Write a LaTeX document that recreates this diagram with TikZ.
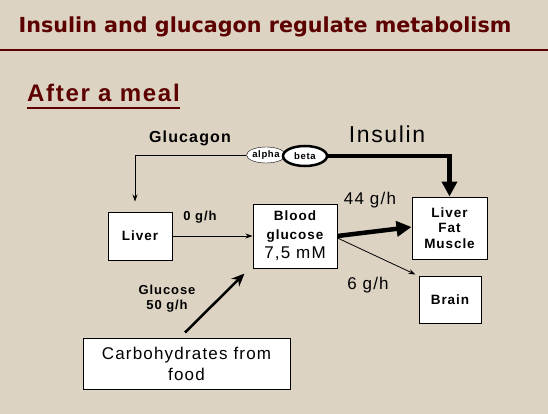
\documentclass[tikz,border=0pt]{standalone}
\usepackage{fontspec}
\setmainfont{Liberation Sans}[LetterSpace=7]
\newfontfamily\headfont{DejaVu Sans}
\usetikzlibrary{arrows.meta,calc,positioning,shapes.geometric}
\definecolor{SlideBG}{HTML}{DCD3C3}
\definecolor{TitleRed}{HTML}{5C0000}

\begin{document}
\begin{tikzpicture}[
  x=1pt,y=-1pt,
  box/.style={draw,fill=white,line width=1pt,align=center,inner sep=0pt,
    font=\fontsize{13.5}{15.5}\selectfont\bfseries},
  lbl/.style={align=center,inner sep=0pt,font=\fontsize{13}{15}\selectfont\bfseries},
  big/.style={align=center,inner sep=0pt,font=\fontsize{17}{19}\selectfont},
  arr/.style={-{Stealth[length=7pt,width=5pt]},line width=0.8pt},
  fatarr/.style={-{Triangle[length=15pt,width=15pt]},line width=4.5pt},
  oval/.style={ellipse,draw,fill=white,inner sep=0pt,font=\fontsize{9.5}{10}\selectfont\bfseries}
]
  \useasboundingbox[fill=SlideBG] (0,0) rectangle (548,414);

  % title
  \node[inner sep=0pt,text=TitleRed,font=\headfont\fontsize{20.7}{24}\selectfont\bfseries]
    (title) at (265,27) {Insulin and glucagon regulate metabolism};
  \draw[TitleRed,line width=2pt] (0,50) -- (548,50);
  \node[inner sep=0pt,anchor=base west,text=TitleRed,font=\fontsize{24}{28}\selectfont\bfseries]
    (meal) at (27,102) {After a meal};
  \draw[TitleRed,line width=2.5pt] ([yshift=-6pt]meal.base west) -- ([yshift=-6pt]meal.base east);

  % boxes
  \node[box,minimum width=64,minimum height=48] (liver) at (140,236) {Liver};
  \node[box,minimum width=84,minimum height=64,font=\fontsize{13.5}{19}\selectfont\bfseries]
    (blood) at (295,236)
    {Blood\\glucose\\{\fontsize{17}{19}\selectfont\mdseries 7,5 mM}};
  \node[box,minimum width=75,minimum height=62] (lfm) at (449.5,228) {Liver\\Fat\\Muscle};
  \node[box,minimum width=62,minimum height=47] (brain) at (450,299.5) {Brain};
  \node[box,minimum width=207,minimum height=51,font=\fontsize{17}{21}\selectfont] (carbs)
    at (186.5,363.5) {Carbohydrates from\\food};

  % islet cells
  \node[oval,minimum width=38,minimum height=16] (alpha) at (266,155) {alpha};
  \node[oval,line width=2.5pt,minimum width=44,minimum height=20] (beta) at (305,156) {beta};

  % labels
  \node[lbl,font=\fontsize{16}{18}\selectfont\bfseries] (glucagon) at (190,138) {Glucagon};
  \node[inner sep=0pt,font=\fontsize{23}{26}\selectfont] (insulin) at (387,134) {Insulin};
  \node[lbl] (zero) at (200,217) {0 g/h};
  \node[big] (fortyfour) at (370,200) {44 g/h};
  \node[big] (six) at (368,285) {6 g/h};
  \node[lbl] (glucose) at (167,299) {Glucose\\50 g/h};

  % flows
  \draw[arr] (alpha.west) -| ([xshift=-5pt,yshift=10pt]liver.north);
  \draw[fatarr] (beta.east) -| (lfm.north);
  \draw[arr] (liver.east) -- (blood.west);
  \draw[fatarr] (blood.east) -- ([yshift=1pt]lfm.west);
  \draw[arr] ([yshift=-2pt]blood.east) -- ([xshift=-3pt,yshift=1pt]brain.north west);
  \draw[-{Stealth[length=13pt,width=11pt]},line width=2.5pt]
    ([xshift=-1.5pt,yshift=5pt]carbs.north) -- ($(blood.south west)+(-8,5)$);
\end{tikzpicture}
\end{document}
